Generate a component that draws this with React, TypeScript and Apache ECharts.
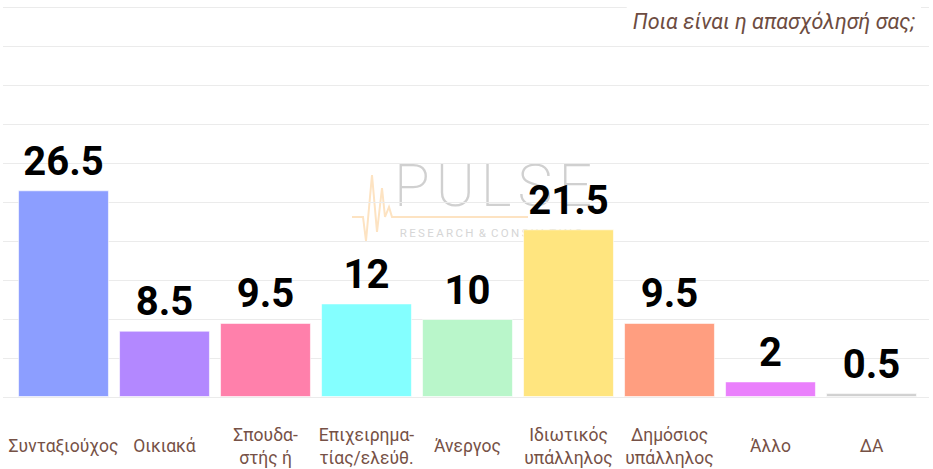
import React, { useEffect, useRef } from "react";
import * as echarts from "echarts";

const titleText = "Ποια είναι η απασχόλησή σας;";
const categories = [
  "Συνταξιούχος",
  "Οικιακά",
  "Σπουδα-\nστής ή",
  "Επιχειρημα-\nτίας/ελεύθ.",
  "Άνεργος",
  "Ιδιωτικός\nυπάλληλος",
  "Δημόσιος\nυπάλληλος",
  "Άλλο",
  "ΔΑ",
];
const values = [26.5, 8.5, 9.5, 12, 10, 21.5, 9.5, 2, 0.5];
const colors = [
  "#8c9eff",
  "#b388ff",
  "#ff80ab",
  "#84ffff",
  "#b9f6ca",
  "#ffe57f",
  "#ff9e80",
  "#ea80fc",
  "#d0d0d0",
];

const sp = (s: string, g: string) => s.split("").join(g);

export default function App() {
  const ref = useRef<HTMLDivElement>(null);
  useEffect(() => {
    if (!ref.current) return;
    const chart = echarts.init(ref.current, undefined, { renderer: "svg" });
    chart.setOption({
      animation: false,
      backgroundColor: "#ffffff",
      title: {
        text: titleText,
        right: 12,
        top: 0,
        backgroundColor: "#ffffff",
        padding: [10, 6, 9, 6],
        textStyle: {
          fontFamily: "Roboto",
          fontStyle: "italic",
          fontWeight: "normal",
          fontSize: 21.5,
          color: "#6d4c41",
        },
      },
      grid: [
        { left: 13, right: 11, top: 7, bottom: 72, containLabel: false },
        { left: 3, right: 4, top: 7, bottom: 72, containLabel: false },
      ],
      xAxis: [
        {
          type: "category",
          gridIndex: 0,
          data: categories,
          axisLine: { show: false },
          axisTick: { show: false },
          axisLabel: {
            interval: 0,
            margin: 49,
            verticalAlign: "middle",
            fontFamily: "Roboto",
            fontSize: 17.5,
            lineHeight: 23,
            color: "#765146",
          },
        },
        {
          type: "value",
          gridIndex: 1,
          show: false,
          min: 0,
          max: 1,
          splitLine: { show: false },
        },
      ],
      yAxis: [
        {
          type: "value",
          gridIndex: 0,
          min: 0,
          max: 50,
          interval: 5,
          show: false,
          splitLine: { show: false },
        },
        {
          type: "value",
          gridIndex: 1,
          min: 0,
          max: 50,
          interval: 5,
          axisLine: { show: false },
          axisTick: { show: false },
          axisLabel: { show: false },
          splitLine: { show: true, lineStyle: { color: "#ebebeb", width: 1 } },
        },
      ],
      graphic: [
        {
          type: "polyline",
          z: 0,
          shape: {
            points: [
              [352, 217],
              [363, 217],
              [366, 241],
              [372, 175],
              [377, 232],
              [382, 188],
              [385, 217],
              [389, 207],
              [392, 217],
              [528, 217],
            ],
          },
          style: { stroke: "#fde3c2", lineWidth: 2, fill: null },
        },
        {
          type: "text",
          z: 0,
          x: 493,
          y: 185,
          style: {
            text: sp("PULSE", "\u200A"),
            fontFamily: "Roboto",
            fontWeight: 200,
            fontSize: 59,
            fill: "#d0d0d0",
            align: "center",
            verticalAlign: "middle",
          },
        },
        {
          type: "text",
          z: 0,
          x: 491,
          y: 232.5,
          style: {
            text: sp("RESEARCH", "\u2009") + "\u2009 & \u2009" + sp("CONSULTING", "\u2009"),
            fontFamily: "Roboto",
            fontSize: 11.5,
            fill: "#d6d6d6",
            align: "center",
            verticalAlign: "middle",
          },
        },
      ],
      series: [
        {
          type: "bar",
          xAxisIndex: 0,
          yAxisIndex: 0,
          barCategoryGap: "10%",
          data: values.map((v, i) => ({
            value: v,
            itemStyle: {
              color: colors[i],
              borderColor: "rgba(255,255,255,0.6)",
              borderWidth: 1,
            },
          })),
          label: {
            show: true,
            position: "top",
            distance: 9,
            fontFamily: "Roboto",
            fontWeight: "bold",
            fontSize: 40,
            color: "#000000",
          },
        },
      ],
    });
    return () => chart.dispose();
  }, []);
  return (
    <div
      ref={ref}
      style={{ position: "absolute", left: 0, top: 0, width: 933, height: 469 }}
    />
  );
}
